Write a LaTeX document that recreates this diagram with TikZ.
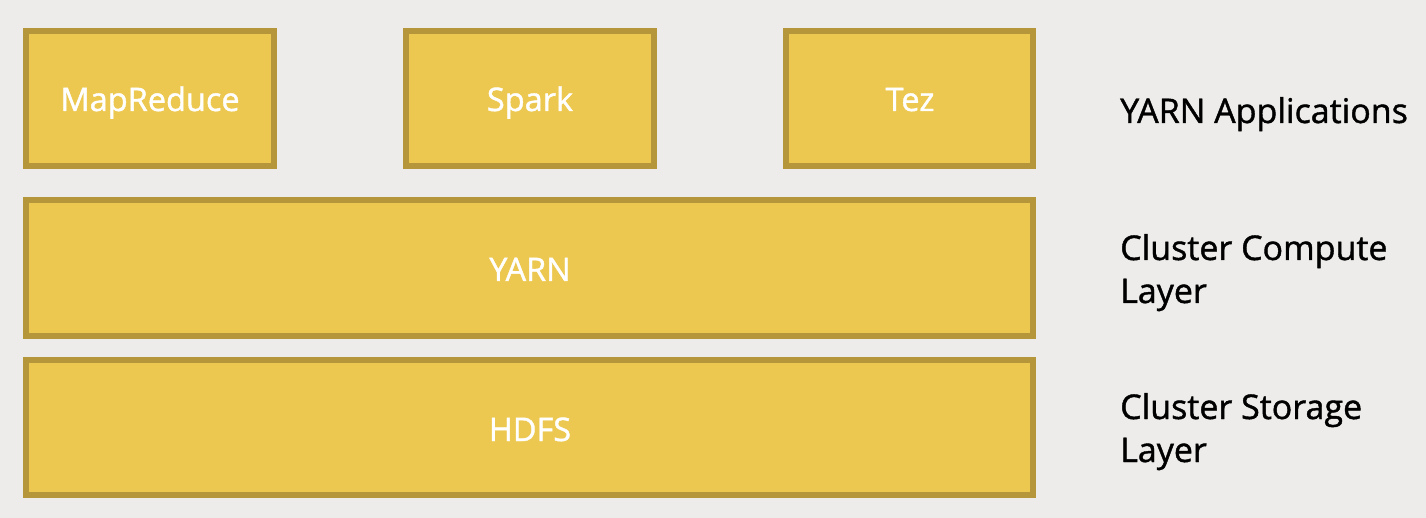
\documentclass[tikz,border=0pt]{standalone}
\usepackage{fontspec}
\setmainfont{Open Sans}
\newfontfamily\heavyfont[FakeBold=1.2]{Open Sans}
\definecolor{bg}{RGB}{237,236,234}
\definecolor{boxfill}{RGB}{236,200,80}
\definecolor{boxline}{RGB}{181,150,58}
\tikzset{
  layerbox/.style={draw=boxline, fill=boxfill, line width=6pt},
  boxtext/.style={text=white, font=\heavyfont\fontsize{32.5}{38}\selectfont, inner sep=0pt, anchor=base},
  sidetext/.style={text=black, font=\heavyfont\fontsize{34}{43}\selectfont, align=left, anchor=base west, inner sep=0pt}
}
\begin{document}
\begin{tikzpicture}[x=1pt,y=-1pt]
\fill[bg] (0,0) rectangle (1426,518);
\useasboundingbox (0,0) rectangle (1426,518);
\draw[layerbox] (26,31) rectangle (274,166);
\draw[layerbox] (406,31) rectangle (654,166);
\draw[layerbox] (786,31) rectangle (1033,166);
\draw[layerbox] (26,200) rectangle (1033,336);
\draw[layerbox] (26,360) rectangle (1033,495);
\node[boxtext] (mr) at (150,111) {MapReduce};
\node[boxtext] (spark) at (530,111) {Spark};
\node[boxtext] (tez) at (910,111) {Tez};
\node[boxtext] (yarn) at (530,281) {YARN};
\node[boxtext] (hdfs) at (530,441) {HDFS};
\node[sidetext] (apps) at (1120,123) {YARN Applications};
\node[sidetext] (compute) at (1120,303) {Cluster Compute\\Layer};
\node[sidetext] (storage) at (1120,462) {Cluster Storage\\Layer};
\end{tikzpicture}
\end{document}
